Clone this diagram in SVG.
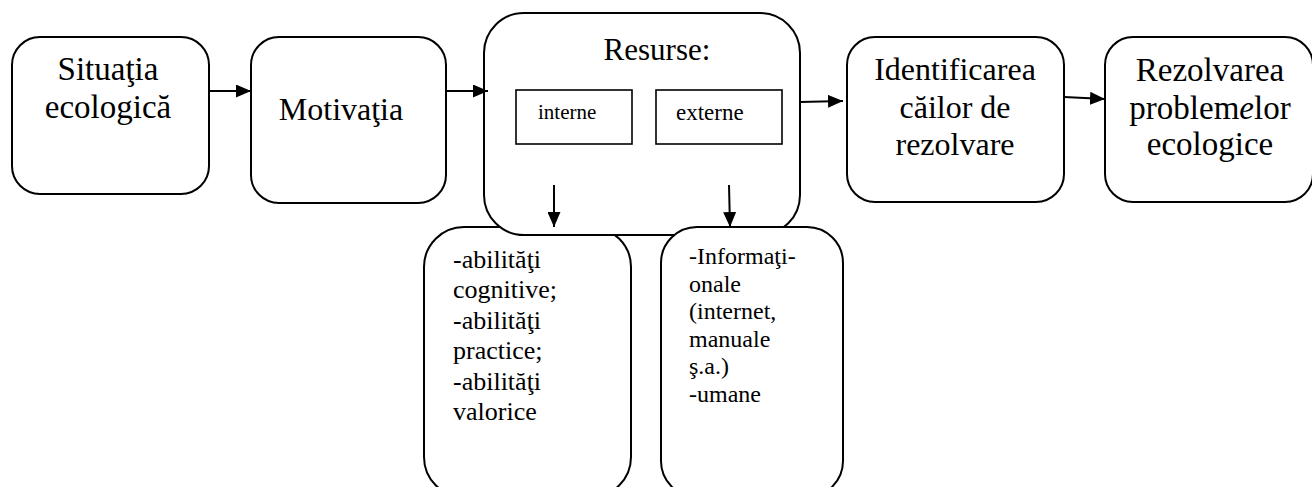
<svg xmlns="http://www.w3.org/2000/svg" width="1312" height="487" viewBox="0 0 1312 487" font-family="'Liberation Serif', 'Times New Roman', serif">
<style>
text{font-family:"Liberation Serif","Times New Roman",serif;fill:#000}
.box{fill:#fff;stroke:#000;stroke-width:2}
.sub{fill:#fff;stroke:#000;stroke-width:1.6}
.ln{stroke:#000;stroke-width:2;fill:none}
</style>
<defs>
<marker id="ah" markerWidth="15" markerHeight="13" refX="15" refY="6.5" orient="auto" markerUnits="userSpaceOnUse">
<path d="M0,0 L15,6.5 L0,13 Z" fill="#000"/>
</marker>
</defs>
<rect width="1312" height="487" fill="#fff"/>
<g id="node-situatia">
<rect class="box" x="12" y="37" width="197" height="157" rx="28"/>
<text font-size="33" text-anchor="middle" x="108" y="80">Situaţia</text>
<text font-size="33" text-anchor="middle" x="108" y="118">ecologică</text>
</g>
<g id="node-motivatia">
<rect class="box" x="251" y="37" width="195" height="166" rx="28"/>
<text font-size="32" text-anchor="middle" x="341" y="120">Motivaţia</text>
</g>
<g id="node-interne-list" font-size="26">
<rect class="box" x="424" y="227" width="207" height="270" rx="40"/>
<text x="453" y="268">-abilităţi</text>
<text x="453" y="298.4">cognitive;</text>
<text x="453" y="328.8">-abilităţi</text>
<text x="453" y="359.2">practice;</text>
<text x="453" y="389.6">-abilităţi</text>
<text x="453" y="420">valorice</text>
</g>
<g id="node-resurse">
<rect class="box" x="484" y="13" width="316" height="222" rx="40"/>
<text font-size="31" text-anchor="middle" x="657" y="60">Resurse:</text>
<rect class="sub" x="516" y="90" width="116" height="54"/>
<text font-size="21" x="538" y="119">interne</text>
<rect class="sub" x="656" y="90" width="126" height="54"/>
<text font-size="23" x="676" y="120">externe</text>
</g>
<g id="node-externe-list" font-size="24">
<rect class="box" x="661" y="227" width="182" height="270" rx="36"/>
<text x="689" y="264.3">-Informaţi-</text>
<text x="689" y="291.8">onale</text>
<text x="689" y="319.3">(internet,</text>
<text x="689" y="346.8">manuale</text>
<text x="689" y="374.3">ş.a.)</text>
<text x="689" y="401.8">-umane</text>
</g>
<g id="node-identificarea" font-size="32" text-anchor="middle">
<rect class="box" x="847" y="37" width="217" height="165" rx="28"/>
<text x="955" y="80">Identificarea</text>
<text x="955" y="118">căilor de</text>
<text x="955" y="155">rezolvare</text>
</g>
<g id="node-rezolvarea" font-size="33" text-anchor="middle">
<rect class="box" x="1105" y="37" width="208" height="165" rx="28"/>
<text x="1210" y="81">Rezolvarea</text>
<text x="1210" y="119">problem<tspan font-style="italic">e</tspan>lor</text>
<text x="1210" y="155">ecologice</text>
</g>
<g id="connectors">
<line class="ln" x1="210" y1="91" x2="251" y2="91" marker-end="url(#ah)"/>
<line class="ln" x1="446" y1="91" x2="488" y2="91" marker-end="url(#ah)"/>
<line class="ln" x1="800" y1="102" x2="843" y2="101" marker-end="url(#ah)"/>
<line class="ln" x1="1064" y1="97" x2="1105" y2="99" marker-end="url(#ah)"/>
<line class="ln" x1="554" y1="185" x2="554" y2="227" marker-end="url(#ah)"/>
<line class="ln" x1="729" y1="185" x2="730" y2="227" marker-end="url(#ah)"/>
</g>
</svg>
